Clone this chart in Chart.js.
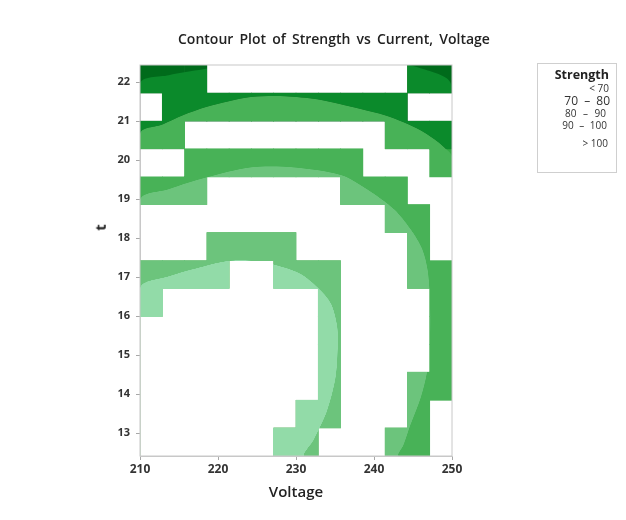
<!DOCTYPE html>
<html>
<head>
<meta charset="utf-8">
<script src="https://cdn.jsdelivr.net/npm/chart.js@4.4.1/dist/chart.umd.min.js"></script>
<style>
  body { margin: 0; background: #fff; }
  #wrap { position: relative; width: 626px; height: 520px; font-family: "Open Sans", sans-serif; color: #333; }
  #box { position: absolute; left: 0; top: 0; width: 626px; height: 520px; }
  #frame { position: absolute; left: 7px; top: 4px; width: 614px; height: 508px; border: 1px solid #ececec; box-sizing: border-box; }
  .txt { position: absolute; white-space: nowrap; line-height: 1; pointer-events: none; }
  #title { left: 178px; top: 32px; font-size: 14px; word-spacing: 2.5px; font-weight: 600; color: #222; }
  #ylab { left: 97px; top: 220px; font-size: 15px; font-weight: 700; color: #222; transform: rotate(-90deg); }
  #legend { position: absolute; left: 537px; top: 63px; width: 80px; height: 110px; border: 1px solid #cfcfcf; box-sizing: border-box; }
  .lg { font-size: 10px; color: #333; }
</style>
</head>
<body>
<div id="wrap">
  <div id="frame"></div>
  <div id="box"><canvas id="contour"></canvas></div>
  <div class="txt" id="title">Contour Plot of Strength vs Current, Voltage</div>
  <div class="txt" id="ylab">t</div>
  <div id="legend"></div>
  <div class="txt lg" style="top:69px;right:17px;font-size:12.5px;font-weight:700;color:#222">Strength</div>
  <div class="txt lg" style="top:83px;right:17px">&lt; 70</div>
  <div class="txt lg" style="top:95px;right:16px;font-size:12px;word-spacing:3px">70 – 80</div>
  <div class="txt lg" style="top:108px;right:20px;word-spacing:4px">80 – 90</div>
  <div class="txt lg" style="top:120px;right:19px;word-spacing:3px">90 – 100</div>
  <div class="txt lg" style="top:138px;right:18px">&gt; 100</div>
</div>
<script>
// grid columns (Voltage) and row edges (Current), top to bottom
const voltageCols = ["211.43", "214.29", "217.14", "220.00", "222.86", "225.71", "228.57",
  "231.43", "234.29", "237.14", "240.00", "242.86", "245.71", "248.57"];
const currentEdges = [22.44, 21.72, 21.0, 20.29, 19.57, 18.86, 18.14, 17.42,
  16.71, 15.99, 15.27, 14.56, 13.84, 13.13, 12.41];
const voltageTicks = [210, 220, 230, 240, 250];
const currentTicks = [13, 14, 15, 16, 17, 18, 19, 20, 21, 22];

// blocky cells: 0 = empty, 1 = high band, 2 = middle bands
const strengthRows = [
  [1, 1, 1, 0, 0, 0, 0, 0, 0, 0, 0, 0, 1, 1],
  [0, 1, 1, 1, 1, 1, 1, 1, 1, 1, 1, 1, 0, 0],
  [1, 1, 0, 0, 0, 0, 0, 0, 0, 0, 0, 1, 1, 1],
  [0, 0, 2, 2, 2, 2, 2, 2, 2, 2, 0, 0, 0, 2],
  [2, 2, 2, 0, 0, 0, 0, 0, 0, 2, 2, 2, 0, 0],
  [0, 0, 0, 0, 0, 0, 0, 0, 0, 0, 0, 2, 2, 0],
  [0, 0, 0, 2, 2, 2, 2, 0, 0, 0, 0, 0, 2, 0],
  [2, 2, 2, 2, 0, 0, 2, 2, 2, 0, 0, 0, 2, 2],
  [2, 0, 0, 0, 0, 0, 0, 0, 2, 0, 0, 0, 0, 2],
  [0, 0, 0, 0, 0, 0, 0, 0, 2, 0, 0, 0, 0, 2],
  [0, 0, 0, 0, 0, 0, 0, 0, 2, 0, 0, 0, 0, 2],
  [0, 0, 0, 0, 0, 0, 0, 0, 2, 0, 0, 0, 2, 2],
  [0, 0, 0, 0, 0, 0, 0, 2, 2, 0, 0, 0, 2, 0],
  [0, 0, 0, 0, 0, 0, 2, 2, 0, 0, 0, 2, 2, 0]
];

// smooth contour boundaries [Voltage, Current], closed along the bottom
const contour100 = [[210, 12.41], [210, 21.95], [213.7, 22.18], [218.1, 22.33], [222.8, 22.49],
  [230.5, 22.62], [240.8, 22.56], [246.4, 22.33], [249.9, 21.92], [250, 12.41]];
const contour90 = [[210, 12.41], [210, 20.67], [212.95, 20.92], [215.5, 21.15], [218.46, 21.36],
  [221.4, 21.51], [224.2, 21.62], [228.6, 21.64], [232.7, 21.56], [235.6, 21.44], [238.3, 21.31],
  [241.4, 21.15], [243.8, 20.97], [245.9, 20.77], [247.7, 20.54], [249.1, 20.31], [250, 20.08], [250, 12.41]];
const contour80 = [[210, 12.41], [210, 18.97], [213.7, 19.26], [218.5, 19.56], [224.2, 19.82],
  [229.7, 19.82], [235.8, 19.62], [239.1, 19.26], [242.6, 18.74], [244.7, 18.23], [246.2, 17.72],
  [246.9, 17.18], [247.2, 16.41], [247.2, 15.38], [246.8, 14.54], [246.0, 13.9], [244.7, 13.21],
  [243.8, 12.69], [243.2, 12.41], [250, 12.41]];
const contour70 = [[210, 12.41], [210, 16.72], [213.7, 17.03], [218.1, 17.28], [221.0, 17.41],
  [223.5, 17.44], [227.1, 17.33], [230.5, 17.1], [232.8, 16.74], [234.5, 16.33], [235.3, 15.77],
  [235.4, 15.26], [235.1, 14.41], [234.0, 13.56], [232.3, 12.82], [231.2, 12.41], [250, 12.41]];

const cellColors = ["#ffffff", "#006b1b", "#33a843"];
const bandColors = ["#0b8a2b", "#48b257", "#6cc47c", "#92dba8"];

const FONT = '"Open Sans", sans-serif';

const barSets = strengthRows.map((row, r) => ({
  type: "bar",
  xAxisID: "xc",
  yAxisID: "y",
  order: 2,
  data: row.map((v) => (v ? [currentEdges[r + 1], currentEdges[r]] : null)),
  backgroundColor: row.map((v) => cellColors[v]),
  borderWidth: 0,
  barPercentage: 1,
  categoryPercentage: 1,
  grouped: false,
}));

const bandSets = [contour100, contour90, contour80, contour70].map((pts, i) => ({
  type: "line",
  xAxisID: "x",
  yAxisID: "y",
  order: 1,
  data: pts.map((p) => ({ x: p[0], y: p[1] })),
  fill: "start",
  backgroundColor: bandColors[i],
  borderColor: "rgba(0,0,0,0)",
  borderWidth: 0,
  pointRadius: 0,
  tension: 0.3,
}));

// bands are blended with "lighten" so empty (white) cells stay white
const blend = {
  id: "blend",
  beforeDraw(chart) {
    const c = chart.ctx;
    c.save();
    c.fillStyle = "#fff";
    c.fillRect(0, 0, chart.width, chart.height);
    c.restore();
  },
  beforeDatasetDraw(chart, args) {
    if (args.meta.type === "bar") chart.ctx.globalCompositeOperation = "source-over";
  },
  afterDatasetDraw(chart, args) {
    if (args.meta.type === "bar") chart.ctx.globalCompositeOperation = "lighten";
  },
  afterDatasetsDraw(chart) {
    const c = chart.ctx;
    const a = chart.chartArea;
    c.globalCompositeOperation = "source-over";
    c.save();
    c.strokeStyle = "#c8c8c8";
    c.lineWidth = 1;
    c.strokeRect(a.left, a.top, a.right - a.left, a.bottom - a.top);
    c.restore();
  },
};

new Chart(document.getElementById("contour"), {
  type: "bar",
  data: {
    labels: voltageCols,
    datasets: [...barSets, ...bandSets],
  },
  options: {
    responsive: true,
    maintainAspectRatio: false,
    animation: false,
    layout: { padding: { left: 100, right: 174, top: 65, bottom: 16 } },
    plugins: {
      legend: { display: false },
      tooltip: { enabled: false },
    },
    scales: {
      xc: { type: "category", labels: voltageCols, display: false, offset: true },
      x: {
        type: "linear",
        position: "bottom",
        min: 210,
        max: 250,
        offset: false,
        afterBuildTicks: (s) => { s.ticks = voltageTicks.map((v) => ({ value: v })); },
        afterFit: (s) => { s.height = 48; },
        grid: { offset: false, drawOnChartArea: false, tickLength: 4, color: "#a8a8a8" },
        border: { color: "#c8c8c8" },
        ticks: { autoSkip: false, maxRotation: 0, padding: 2, color: "#333", font: { family: FONT, size: 12, weight: "bold" } },
        title: { display: true, text: "Voltage", color: "#222", padding: { top: 4, bottom: 2 }, font: { family: FONT, size: 15, weight: "600" } },
      },
      y: {
        type: "linear",
        position: "left",
        min: 12.41,
        max: 22.44,
        afterBuildTicks: (s) => { s.ticks = currentTicks.map((v) => ({ value: v })); },
        afterFit: (s) => { s.width = 40; },
        grid: { drawOnChartArea: false, tickLength: 4, color: "#a8a8a8" },
        border: { color: "#c8c8c8" },
        ticks: { padding: 6, color: "#333", font: { family: FONT, size: 11, weight: "bold" } },
      },
    },
  },
  plugins: [blend],
});
</script>
</body>
</html>
